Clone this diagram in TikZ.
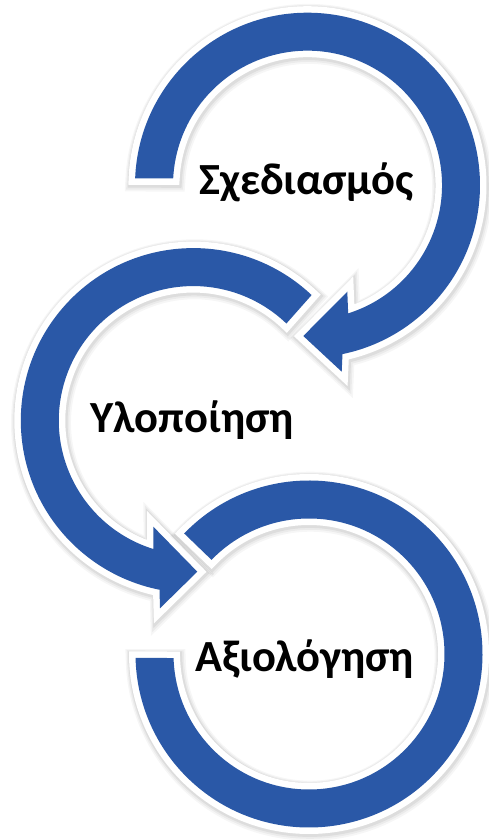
\documentclass[tikz,border=0pt]{standalone}
\usepackage{fontspec}
\setmainfont{Carlito}
\definecolor{sablue}{RGB}{42,88,167}
\tikzset{
  band/.style={fill=sablue,
    preaction={draw=black, draw opacity=0.035, line width=22pt, line join=miter,
      transform canvas={shift={(1.2pt,-2.2pt)}}},
    preaction={draw=black, draw opacity=0.045, line width=19pt, line join=miter,
      transform canvas={shift={(1pt,-1.8pt)}}},
    preaction={draw=black, draw opacity=0.06, line width=16pt, line join=miter,
      transform canvas={shift={(0.8pt,-1.4pt)}}},
    preaction={draw=white, line width=13pt, line join=miter}},
  lbl/.style={font=\fontsize{44.5}{52}\selectfont\bfseries, text=black, inner sep=0pt}
}
\begin{document}
\begin{tikzpicture}[x=1pt,y=1pt]
\useasboundingbox (0,0) rectangle (489,840);
\fill[white] (0,0) rectangle (489,840);
% circle 1 (top)
\begin{scope}[shift={(307.5,654.8)}]
\path[band] (177.7:172.5) arc[start angle=177.7, end angle=-78.3, radius=172.5]
  -- (34.2,-186.5) -- (-4.2,-150.8) -- (39.8,-106.5)
  -- (-72.4:134.5) arc[start angle=-72.4, end angle=177.1, radius=134.5] -- cycle;
\end{scope}
% circle 2 (middle)
\begin{scope}[shift={(193.3,419.4)}]
\path[band] (46.7:172.5) arc[start angle=46.7, end angle=258.7, radius=172.5]
  -- (-33.3,-187.7) -- (4,-151.1) -- (-40,-106.1)
  -- (252.7:134.5) arc[start angle=252.7, end angle=46.2, radius=134.5] -- cycle;
\end{scope}
% circle 3 (bottom)
\begin{scope}[shift={(309,186)}]
\path[band] (136:173.5) arc[start angle=136, end angle=-178.7, radius=173.5]
  -- (-178.3:135.5) arc[start angle=-178.3, end angle=136, radius=135.5] -- cycle;
\end{scope}
\node[lbl, anchor=base] (t1) at (306.5,645) {Σχεδιασμός};
\node[lbl, anchor=base] (t2) at (192,407) {Υλοποίηση};
\node[lbl, anchor=base] (t3) at (305,168) {Αξιολόγηση};
\end{tikzpicture}
\end{document}
